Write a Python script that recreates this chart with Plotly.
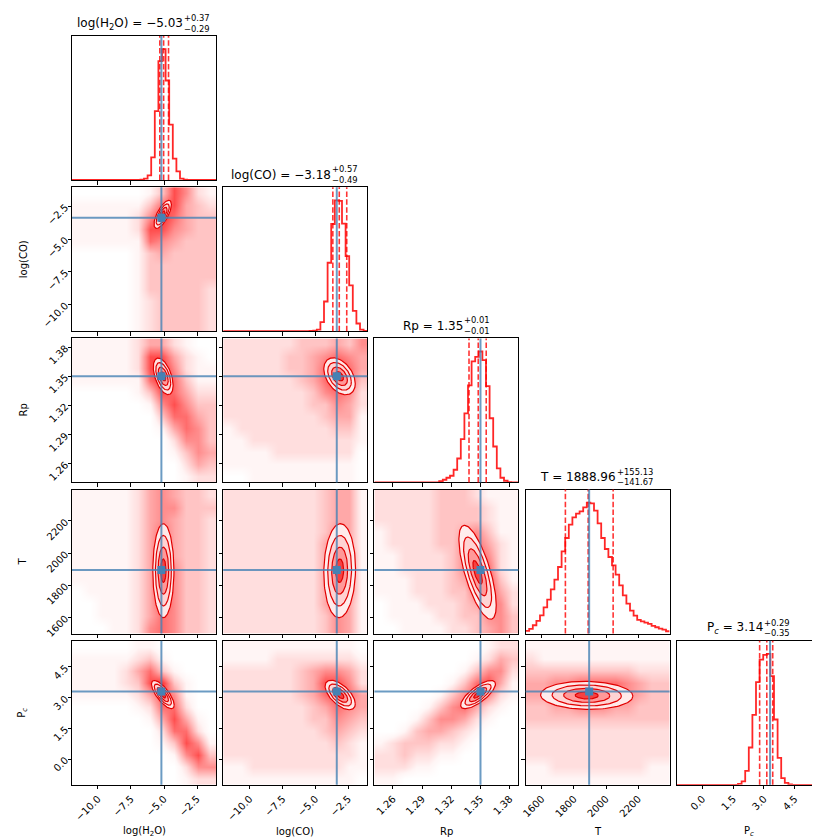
import re
import numpy as np
import plotly.graph_objects as go

# ---- parameters (order: H2O, CO, Rp, T, Pc) ----------------------------------
names = ["log(H<sub>2</sub>O)", "log(CO)", "Rp", "T", "P<sub><i>c</i></sub>"]
axis_ranges = [[-11.96, -1.07], [-12.03, -1.05], [1.2409, 1.389], [1500.0, 2395.0], [-1.26, 5.78]]
tick_vals = [[-10, -7.5, -5, -2.5], [-10, -7.5, -5, -2.5],
             [1.26, 1.29, 1.32, 1.35, 1.38], [1600, 1800, 2000, 2200], [0, 1.5, 3, 4.5]]
tick_text = [["−10.0", "−7.5", "−5.0", "−2.5"], ["−10.0", "−7.5", "−5.0", "−2.5"],
             ["1.26", "1.29", "1.32", "1.35", "1.38"], ["1600", "1800", "2000", "2200"],
             ["0.0", "1.5", "3.0", "4.5"]]
truths = [-5.2, -3.37, 1.35, 1895.0, 3.3]
q16 = [-5.32, -3.67, 1.3382, 1747.29, 2.79]
q50 = [-5.03, -3.18, 1.3477, 1888.96, 3.14]
q84 = [-4.66, -2.61, 1.3559, 2044.09, 3.43]

# 40-bin marginal histograms (relative counts)
h2o_counts = [0, 0, 0, 0, 0, 0, 0, 0, 0, 0, 0, 0, 0, 0, 0, 0, 0, 0, 0, 1,
              4, 14, 68, 206, 356, 392, 298, 166, 64, 26, 4, 1, 0, 0, 0, 0, 0, 0, 0, 0]
co_counts = [0, 0, 0, 0, 0, 0, 0, 0, 0, 0, 0, 0, 0, 0, 0, 0, 0, 0, 0, 0,
             0, 0, 0, 0, 1, 2, 5, 27, 89, 205, 321, 392, 390, 322, 225, 137, 61, 23, 5, 1]
rp_counts = [0, 0, 0, 0, 0, 0, 0, 0, 0, 0, 0, 0, 0, 0, 0, 0, 0, 0, 4, 8,
             14, 20, 38, 72, 130, 208, 292, 364, 378, 394, 368, 290, 193, 108, 42, 14, 5, 1, 0, 0]
t_counts = [8, 14, 25, 38, 55, 79, 102, 133, 162, 200, 247, 287, 327, 349, 360, 367, 379, 393, 391, 369,
            331, 287, 254, 230, 205, 177, 145, 115, 90, 69, 54, 41, 37, 33, 29, 23, 19, 15, 12, 7]
pc_counts = [0, 0, 0, 0, 0, 0, 0, 0, 0, 0, 0, 0, 0, 0, 0, 0, 0, 3, 10, 42,
             112, 210, 308, 376, 390, 393, 326, 196, 81, 20, 6, 1, 0, 0, 0, 0, 0, 0, 0, 0]
hist_counts = [h2o_counts, co_counts, rp_counts, t_counts, pc_counts]

# 2D sample density, 12x12 cells, top row first, 0 (empty) .. 9 (saturated)
dens_h2o_co = ["000000137521", "111111367432", "111112586433", "111112775433",
               "111111654333", "000001343333", "000001333333", "000001333333",
               "000001333332", "000001233332", "000001233332", "000001233332"]
dens_h2o_rp = ["111112442100", "111112774210", "111112785211", "111111686311",
               "000001376422", "000000157533", "000000036643", "000000014653",
               "000000002553", "000000001354", "000000000243", "000000000122"]
dens_co_rp = ["222222333435", "222223345654", "222223346864", "222222346863",
              "222222235652", "222222233542", "222222223441", "122222222331",
              "112222222221", "111122222220", "111111111110", "001111111110"]
dens_h2o_t = ["111112454332", "111112455333", "111112454332", "111112464332",
              "111112474332", "111112484332", "111112485332", "111112485332",
              "011112485332", "001112475332", "001112465332", "000112565332"]
dens_co_t = ["222222223441", "222222223441", "222222223441", "222222223541",
             "222222224641", "222222224751", "222222224851", "222222224751",
             "222222224751", "222222224641", "222222223541", "222222223541"]
dens_rp_t = ["222223332111", "222223333211", "222223333211", "122223345311",
             "122223356421", "112222357521", "112222358621", "111222348731",
             "111222336742", "011122234652", "011112233553", "001111223453"]
dens_h2o_pc = ["000001100000", "111112310000", "111124631000", "111123783100",
               "111112475100", "000001266200", "000000147410", "000000026620",
               "000000013751", "000000001573", "000000000255", "000000000122"]
dens_co_pc = ["111111111110", "111122222221", "222222345542", "222222347752",
              "222222346764", "222222234654", "222222233543", "222222223432",
              "222222222321", "222222222221", "112222222211", "111111111110"]
dens_rp_pc = ["000000000122", "000000001243", "000000013552", "000000136741",
              "000001357521", "000013564210", "000135542100", "001344321000",
              "123332210000", "223221100000", "222110000000", "110000000000"]
dens_t_pc = ["111111111111", "211111111111", "333333333222", "445566665433",
             "445677765433", "334455544333", "333333333333", "222222222222",
             "222222222222", "222222222222", "112222222211", "111111111111"]

pairs = [(1, 0), (2, 0), (2, 1), (3, 0), (3, 1), (3, 2), (4, 0), (4, 1), (4, 2), (4, 3)]
densities = [dens_h2o_co, dens_h2o_rp, dens_co_rp, dens_h2o_t, dens_co_t,
             dens_rp_t, dens_h2o_pc, dens_co_pc, dens_rp_pc, dens_t_pc]

# outer (2-sigma) contour of each pair: centre, half extents, correlation
ell_cx = [-5.1, -5.06, -3.16, -5.05, -3.15, 1.347, -5.09, -3.11, 1.3475, 1880.0]
ell_cy = [-3.12, 1.350, 1.350, 1891.0, 1891.0, 1881.0, 3.15, 3.13, 3.15, 3.11]
ell_ax = [0.66, 0.75, 1.2, 0.8, 1.21, 0.0192, 0.86, 1.15, 0.0179, 287.0]
ell_ay = [1.07, 0.0188, 0.019, 292.0, 292.0, 292.0, 0.69, 0.72, 0.69, 0.685]
ell_rho = [0.7, -0.5, -0.4, 0.0, 0.05, -0.7, -0.75, -0.6, 0.75, -0.05]

# ---- geometry ------------------------------------------------------------------
W, H = 820, 840
ML, MR, MT, MB = 64, 6, 28, 63
PW, PH = W - ML - MR, H - MT - MB
STEP, SIZE = 151.2, 144.0
FONT = "DejaVu Sans"
TICK_SIZE, LABEL_SIZE, TITLE_SIZE, SCRIPT_SIZE = 10, 10, 12, 8.4
TRUTH = "rgba(70,130,180,0.8)"

# DejaVu Sans advance widths (em) for centring the titles
EM = {"l": 0.278, "o": 0.612, "g": 0.635, "(": 0.39, ")": 0.39, "H": 0.752, "O": 0.787,
      "C": 0.698, "R": 0.695, "p": 0.635, "T": 0.611, "P": 0.603, "c": 0.55, " ": 0.318,
      "=": 0.838, "−": 0.838, "+": 0.838, ".": 0.318}


def text_width(s, size):
    w = 0.0
    for part in re.split(r"(<sub>.*?</sub>)", s):
        scale = 0.7 if part.startswith("<sub>") else 1.0
        for ch in re.sub(r"<[^>]+>", "", part):
            w += EM.get(ch, 0.636) * size * scale
    return w


def xdom(c):
    a = c * STEP / PW
    return [a, min(1.0, a + SIZE / PW)]


def ydom(r):
    top = 1 - r * STEP / PH
    return [max(0.0, top - SIZE / PH), top]


def paper_x(px):
    return (px - ML) / PW


def paper_y(py):
    return 1 - (py - MT) / PH


cloud_scale = [[0.0, "rgba(255,0,0,0)"], [0.111, "rgba(255,0,0,0.04)"],
               [0.222, "rgba(255,0,0,0.13)"], [0.333, "rgba(255,0,0,0.23)"],
               [0.556, "rgba(255,0,0,0.45)"], [0.778, "rgba(255,0,0,0.7)"],
               [1.0, "rgba(255,0,0,0.9)"]]
ring_scales = [1.0, 0.75, 0.5, 0.25]
ring_fills = ["rgba(255,242,242,0.92)", "rgba(255,210,210,0.95)",
              "rgba(255,150,150,0.95)", "rgba(245,60,60,0.95)"]

fig = go.Figure()
layout = {}
shapes = []
annotations = []

panel_id = {}
n = 0
for r in range(5):
    for c in range(r + 1):
        n += 1
        panel_id[(r, c)] = n


def refs(k):
    s = "" if k == 1 else str(k)
    return "x" + s, "y" + s


for (r, c), k in panel_id.items():
    xr, yr = refs(k)
    xkey = "xaxis" + xr[1:]
    ykey = "yaxis" + yr[1:]
    common = dict(showline=True, mirror=True, linecolor="black", linewidth=1,
                  showgrid=False, zeroline=False, ticks="outside", ticklen=3.5,
                  tickwidth=0.8, tickcolor="black",
                  tickfont=dict(family=FONT, size=TICK_SIZE, color="black"))
    layout[xkey] = dict(common, domain=xdom(c), range=axis_ranges[c], anchor=yr,
                        tickmode="array", tickvals=tick_vals[c], ticktext=tick_text[c],
                        showticklabels=(r == 4), tickangle=-45)
    if r == c:
        counts = hist_counts[c]
        lo, hi = axis_ranges[c]
        edges = np.linspace(lo, hi, len(counts) + 1)
        layout[ykey] = dict(common, domain=ydom(r), range=[0, 1.1 * max(counts)],
                            anchor=xr, ticks="", showticklabels=False)
        fig.add_trace(go.Scatter(x=edges, y=counts + [counts[-1]], mode="lines",
                                 line=dict(color="rgba(255,0,0,0.85)", width=1.8, shape="hv"),
                                 xaxis=xr, yaxis=yr, showlegend=False, hoverinfo="skip"))
        for q in (q16[c], q50[c], q84[c]):
            shapes.append(dict(type="line", xref=xr, yref=yr + " domain", x0=q, x1=q, y0=0, y1=1,
                               line=dict(color="rgba(255,0,0,0.8)", width=1.6, dash="5.5px,2.4px")))
        shapes.append(dict(type="line", xref=xr, yref=yr + " domain", x0=truths[c], x1=truths[c],
                           y0=0, y1=1, line=dict(color=TRUTH, width=2)))
        # title: name = median with stacked errors
        med = f"{q50[c]:.2f}".replace("-", "−")
        plus = f"+{q84[c] - q50[c]:.2f}"
        minus = f"−{q50[c] - q16[c]:.2f}"
        main = f"{names[c]} = {med}"
        main_w = text_width(main, TITLE_SIZE)
        scr_w = max(text_width(plus, SCRIPT_SIZE), text_width(minus, SCRIPT_SIZE))
        cx_px = ML + c * STEP + SIZE / 2
        split = cx_px + (main_w - scr_w) / 2
        top_px = MT + r * STEP
        annotations.append(dict(text=main, x=paper_x(split + 1), y=paper_y(top_px - 12.5),
                                xref="paper", yref="paper", xanchor="right", yanchor="middle",
                                showarrow=False, font=dict(family=FONT, size=TITLE_SIZE, color="black")))
        annotations.append(dict(text=plus, x=paper_x(split - 1), y=paper_y(top_px - 18),
                                xref="paper", yref="paper", xanchor="left", yanchor="middle",
                                borderpad=0, showarrow=False,
                                font=dict(family=FONT, size=SCRIPT_SIZE, color="black")))
        annotations.append(dict(text=minus, x=paper_x(split - 1), y=paper_y(top_px - 7.5),
                                xref="paper", yref="paper", xanchor="left", yanchor="middle",
                                borderpad=0, showarrow=False,
                                font=dict(family=FONT, size=SCRIPT_SIZE, color="black")))
    else:
        layout[ykey] = dict(common, domain=ydom(r), range=axis_ranges[r], anchor=xr,
                            tickmode="array", tickvals=tick_vals[r], ticktext=tick_text[r],
                            showticklabels=(c == 0), tickangle=-45)
        i = pairs.index((r, c))
        grid = densities[i]
        z = [[int(ch) for ch in row] for row in reversed(grid)]
        xlo, xhi = axis_ranges[c]
        ylo, yhi = axis_ranges[r]
        dx = (xhi - xlo) / len(z[0])
        dy = (yhi - ylo) / len(z)
        fig.add_trace(go.Heatmap(z=z, x0=xlo + dx / 2, dx=dx, y0=ylo + dy / 2, dy=dy,
                                 zmin=0, zmax=9, colorscale=cloud_scale, zsmooth="best",
                                 showscale=False, hoverinfo="skip", xaxis=xr, yaxis=yr))
        t = np.linspace(0, 2 * np.pi, 120)
        rho = ell_rho[i]
        for s, fc in zip(ring_scales, ring_fills):
            ex = ell_cx[i] + s * ell_ax[i] * np.cos(t)
            ey = ell_cy[i] + s * ell_ay[i] * (rho * np.cos(t) + np.sqrt(1 - rho ** 2) * np.sin(t))
            fig.add_trace(go.Scatter(x=ex, y=ey, mode="lines", fill="toself", fillcolor=fc,
                                     line=dict(color="#e00000", width=1.2),
                                     xaxis=xr, yaxis=yr, showlegend=False, hoverinfo="skip"))
        fig.add_trace(go.Scatter(x=[truths[c]], y=[truths[r]], mode="markers",
                                 marker=dict(symbol="square", size=8, color="#4682b4"),
                                 xaxis=xr, yaxis=yr, showlegend=False, hoverinfo="skip"))
        shapes.append(dict(type="line", xref=xr, yref=yr + " domain", x0=truths[c], x1=truths[c],
                           y0=0, y1=1, line=dict(color=TRUTH, width=2)))
        shapes.append(dict(type="line", xref=xr + " domain", yref=yr, x0=0, x1=1,
                           y0=truths[r], y1=truths[r], line=dict(color=TRUTH, width=2)))

# axis labels
for c in range(5):
    annotations.append(dict(text=names[c], x=paper_x(ML + c * STEP + SIZE / 2), y=paper_y(823),
                            xref="paper", yref="paper", xanchor="center", yanchor="middle",
                            showarrow=False, font=dict(family=FONT, size=LABEL_SIZE, color="black")))
for r in range(1, 5):
    annotations.append(dict(text=names[r], x=paper_x(15), y=paper_y(MT + r * STEP + SIZE / 2),
                            xref="paper", yref="paper", xanchor="center", yanchor="middle",
                            textangle=-90, showarrow=False,
                            font=dict(family=FONT, size=LABEL_SIZE, color="black")))

fig.update_layout(**layout)
fig.update_layout(width=W, height=H, margin=dict(l=ML, r=MR, t=MT, b=MB),
                  plot_bgcolor="white", paper_bgcolor="white", showlegend=False,
                  shapes=shapes, annotations=annotations)

fig.write_html("out.html")
